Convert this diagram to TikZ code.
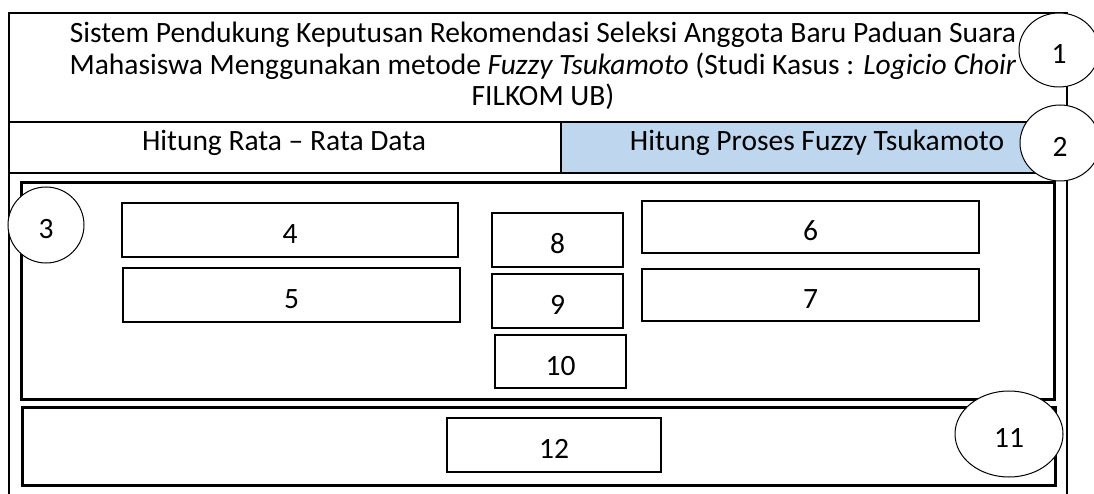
\documentclass[tikz,border=0pt]{standalone}
\usepackage{fontspec}
\setmainfont{Carlito}
\usetikzlibrary{shapes.geometric}
\definecolor{tabblue}{RGB}{190,214,238}
\tikzset{
  lbl/.style={font=\fontsize{29.5}{32}\selectfont, text height=27pt, text depth=0pt},
  titletext/.style={font=\fontsize{29.5}{31.5}\selectfont, align=center, inner sep=0pt},
  tabtext/.style={font=\fontsize{29.5}{31}\selectfont, inner sep=0pt, anchor=base},
  field/.style={draw, line width=2.5pt, inner sep=0pt, lbl},
  panel/.style={draw, line width=3pt, inner sep=0pt},
  marker/.style={draw, ellipse, fill=white, line width=1pt, inner sep=0pt, lbl},
}
\begin{document}
\begin{tikzpicture}[x=1pt,y=-1pt]
\useasboundingbox (0,0) rectangle (1094,494);
% outer frame, open at the bottom
\draw[line width=2pt] (9,494) -- (9,13) -- (1067,13) -- (1067,494);
% tab row
\fill[tabblue] (561,122) rectangle (1067,173);
\draw[line width=2.5pt] (9,122) -- (1067,122);
\draw[line width=2.5pt] (9,173) -- (1067,173);
\draw[line width=2pt] (561,122) -- (561,173);
% title and tabs
\node[titletext] (title) at (543,66)
  {Sistem Pendukung Keputusan Rekomendasi Seleksi Anggota Baru Paduan Suara\\
   Mahasiswa Menggunakan metode \textit{Fuzzy Tsukamoto} (Studi Kasus : \textit{Logicio Choir}\\
   FILKOM UB)};
\node[tabtext] (tabA) at (284,151) {Hitung Rata -- Rata Data};
\node[tabtext] (tabB) at (817,151) {Hitung Proses Fuzzy Tsukamoto};
% content panels
\node[panel, minimum width=1033pt, minimum height=216pt] (p3) at (537.5,291) {};
\node[panel, minimum width=1033pt, minimum height=78pt] (p11) at (538.5,446) {};
% fields
\node[field, minimum width=336pt, minimum height=54pt] (f4) at (290,230) {4};
\node[field, minimum width=337pt, minimum height=54pt] (f5) at (291.5,295) {5};
\node[field, minimum width=337pt, minimum height=52pt] (f6) at (810.5,227) {6};
\node[field, minimum width=337pt, minimum height=52pt] (f7) at (810.5,295) {7};
\node[field, minimum width=131pt, minimum height=54pt] (f8) at (557.5,240) {8};
\node[field, minimum width=131pt, minimum height=54pt] (f9) at (557.5,301) {9};
\node[field, minimum width=131pt, minimum height=53pt] (f10) at (560.5,361.5) {10};
\node[field, minimum width=214pt, minimum height=54pt] (f12) at (554,445) {12};
% numbered markers
\node[marker, minimum width=80pt, minimum height=74pt] (m1) at (1059,50) {1};
\node[marker, minimum width=80pt, minimum height=76pt] (m2) at (1060,143) {2};
\node[marker, minimum width=76pt, minimum height=76pt] (m3) at (46,225) {3};
\node[marker, minimum width=108pt, minimum height=86pt] (m11) at (1009,434) {11};
\end{tikzpicture}
\end{document}
